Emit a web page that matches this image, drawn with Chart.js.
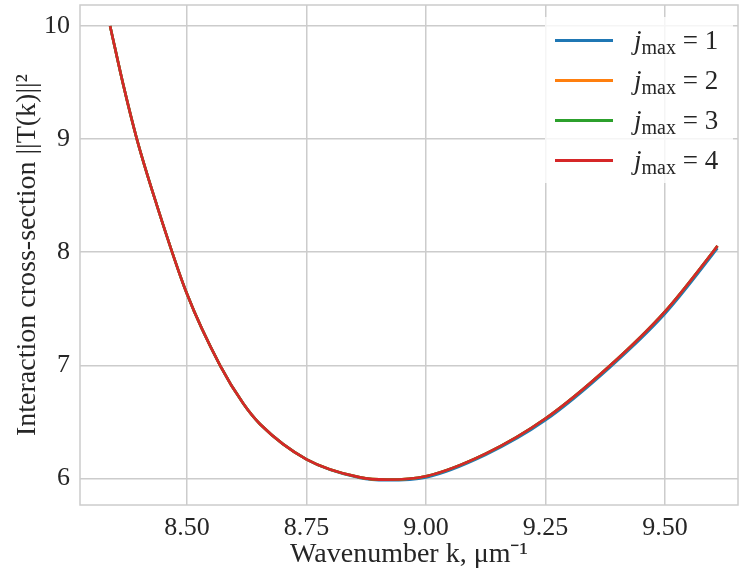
<!DOCTYPE html>
<html>
<head>
<meta charset="utf-8">
<script src="https://cdn.jsdelivr.net/npm/chart.js@4.4.1/dist/chart.umd.min.js"></script>
<style>
    html, body { margin: 0; padding: 0; background: #fff; }
    #wrap { position: relative; width: 739px; height: 575px; }
    #legend {
        position: absolute; left: 545px; top: 17px; width: 188px; height: 166px;
        background: rgba(255, 255, 255, 0.8);
        font-family: "Liberation Serif", serif; font-size: 27px; color: #262626;
    }
    #legend .row { position: absolute; left: 0; width: 188px; height: 40px; }
    #legend .swatch { position: absolute; left: 10px; top: 19px; width: 58px; height: 3px; }
    #legend .label { position: absolute; left: 89px; top: 0; line-height: 40px; white-space: nowrap; }
    #legend .label i { font-style: italic; }
    #legend .label sub { font-size: 20px; vertical-align: -5px; line-height: 0; }
</style>
</head>
<body>
<div id="wrap">
    <canvas id="lineChart" width="739" height="575"></canvas>
    <div id="legend"></div>
</div>
<script>
// valores
const kValues = [8.339, 8.366, 8.395, 8.435, 8.50, 8.569, 8.618, 8.653, 8.75, 8.862, 8.918, 9.00, 9.125, 9.25, 9.383, 9.50, 9.60, 9.61];
const jmax1 = [10.00, 9.49, 9.00, 8.44, 7.63, 7.00, 6.66, 6.48, 6.17, 6.005, 5.985, 6.01, 6.21, 6.515, 6.975, 7.455, 7.98, 8.036];
const jmax2 = [10.00, 9.49, 9.00, 8.44, 7.63, 7.00, 6.66, 6.48, 6.17, 6.01, 5.99, 6.02, 6.22, 6.53, 6.99, 7.475, 8.00, 8.056];
const jmax3 = [10.00, 9.49, 9.00, 8.44, 7.63, 7.00, 6.66, 6.48, 6.17, 6.01, 5.99, 6.02, 6.22, 6.53, 6.99, 7.475, 8.00, 8.056];
const jmax4 = [10.00, 9.49, 9.00, 8.44, 7.63, 7.00, 6.66, 6.48, 6.17, 6.01, 5.99, 6.02, 6.22, 6.53, 6.99, 7.475, 8.00, 8.056];

const seriesNames = ['1', '2', '3', '4'];
const xTicks = [8.50, 8.75, 9.00, 9.25, 9.50];
const yTicks = [6, 7, 8, 9, 10];

const colors = ['#1f77b4', '#ff7f0e', '#2ca02c', '#d62728'];
const gridColor = '#cccccc';
const textColor = '#262626';
const serif = '"Liberation Serif", serif';

const allSeries = [jmax1, jmax2, jmax3, jmax4];

// moldura completa em volta da área do gráfico
const frameBox = {
    id: 'frameBox',
    afterDraw(chart) {
        const { ctx, chartArea: a } = chart;
        ctx.save();
        ctx.strokeStyle = gridColor;
        ctx.lineWidth = 1.5;
        ctx.strokeRect(a.left, a.top, a.right - a.left, a.bottom - a.top);
        ctx.restore();
    }
};

function noPad(s) {
    s.paddingTop = 0;
    s.paddingBottom = 0;
    s.paddingLeft = 0;
    s.paddingRight = 0;
}

const chart = new Chart(document.getElementById('lineChart'), {
    type: 'line',
    data: {
        datasets: allSeries.map((vals, i) => ({
            label: 'jmax = ' + seriesNames[i],
            data: kValues.map((k, j) => ({ x: k, y: vals[j] })),
            borderColor: colors[i],
            backgroundColor: colors[i],
            borderWidth: 2.6,
            pointRadius: 0,
            fill: false,
            cubicInterpolationMode: 'monotone',
            order: 3 - i
        }))
    },
    options: {
        responsive: false,
        devicePixelRatio: 1,
        animation: false,
        layout: { padding: { top: 5, right: 1, left: 0, bottom: 0 } },
        plugins: {
            legend: { display: false },
            tooltip: { enabled: false }
        },
        scales: {
            x: {
                type: 'linear',
                min: 8.276,
                max: 9.653,
                afterBuildTicks: axis => { axis.ticks = xTicks.map(v => ({ value: v })); },
                afterFit: s => { s.height = 70; noPad(s); },
                ticks: {
                    callback: v => Number(v).toFixed(2),
                    font: { family: serif, size: 26 },
                    color: textColor,
                    padding: 8,
                    maxRotation: 0,
                    autoSkip: false
                },
                grid: { color: gridColor, lineWidth: 1.5, drawTicks: false },
                border: { display: false },
                title: {
                    display: true,
                    text: 'Wavenumber k, μm⁻¹',
                    font: { family: serif, size: 28 },
                    color: textColor,
                    padding: { top: 0, bottom: 4 }
                }
            },
            y: {
                type: 'linear',
                min: 5.766,
                max: 10.185,
                afterBuildTicks: axis => { axis.ticks = yTicks.map(v => ({ value: v })); },
                afterFit: s => { s.width = 80; noPad(s); },
                ticks: {
                    callback: v => String(v),
                    font: { family: serif, size: 26 },
                    color: textColor,
                    padding: 10
                },
                grid: { color: gridColor, lineWidth: 1.5, drawTicks: false },
                border: { display: false },
                title: {
                    display: true,
                    text: 'Interaction cross-section ||T(k)||²',
                    font: { family: serif, size: 28 },
                    color: textColor,
                    padding: { top: 11, bottom: 0 }
                }
            }
        }
    },
    plugins: [frameBox]
});

// legenda em HTML (subscrito "max")
const legendBox = document.getElementById('legend');
chart.data.datasets.forEach((ds, i) => {
    const row = document.createElement('div');
    row.className = 'row';
    row.style.top = (3 + i * 40) + 'px';
    row.innerHTML = '<div class="swatch" style="background:' + ds.borderColor + '"></div>' +
        '<div class="label"><i>j</i><sub>max</sub> = ' + seriesNames[i] + '</div>';
    legendBox.appendChild(row);
});
</script>
</body>
</html>
